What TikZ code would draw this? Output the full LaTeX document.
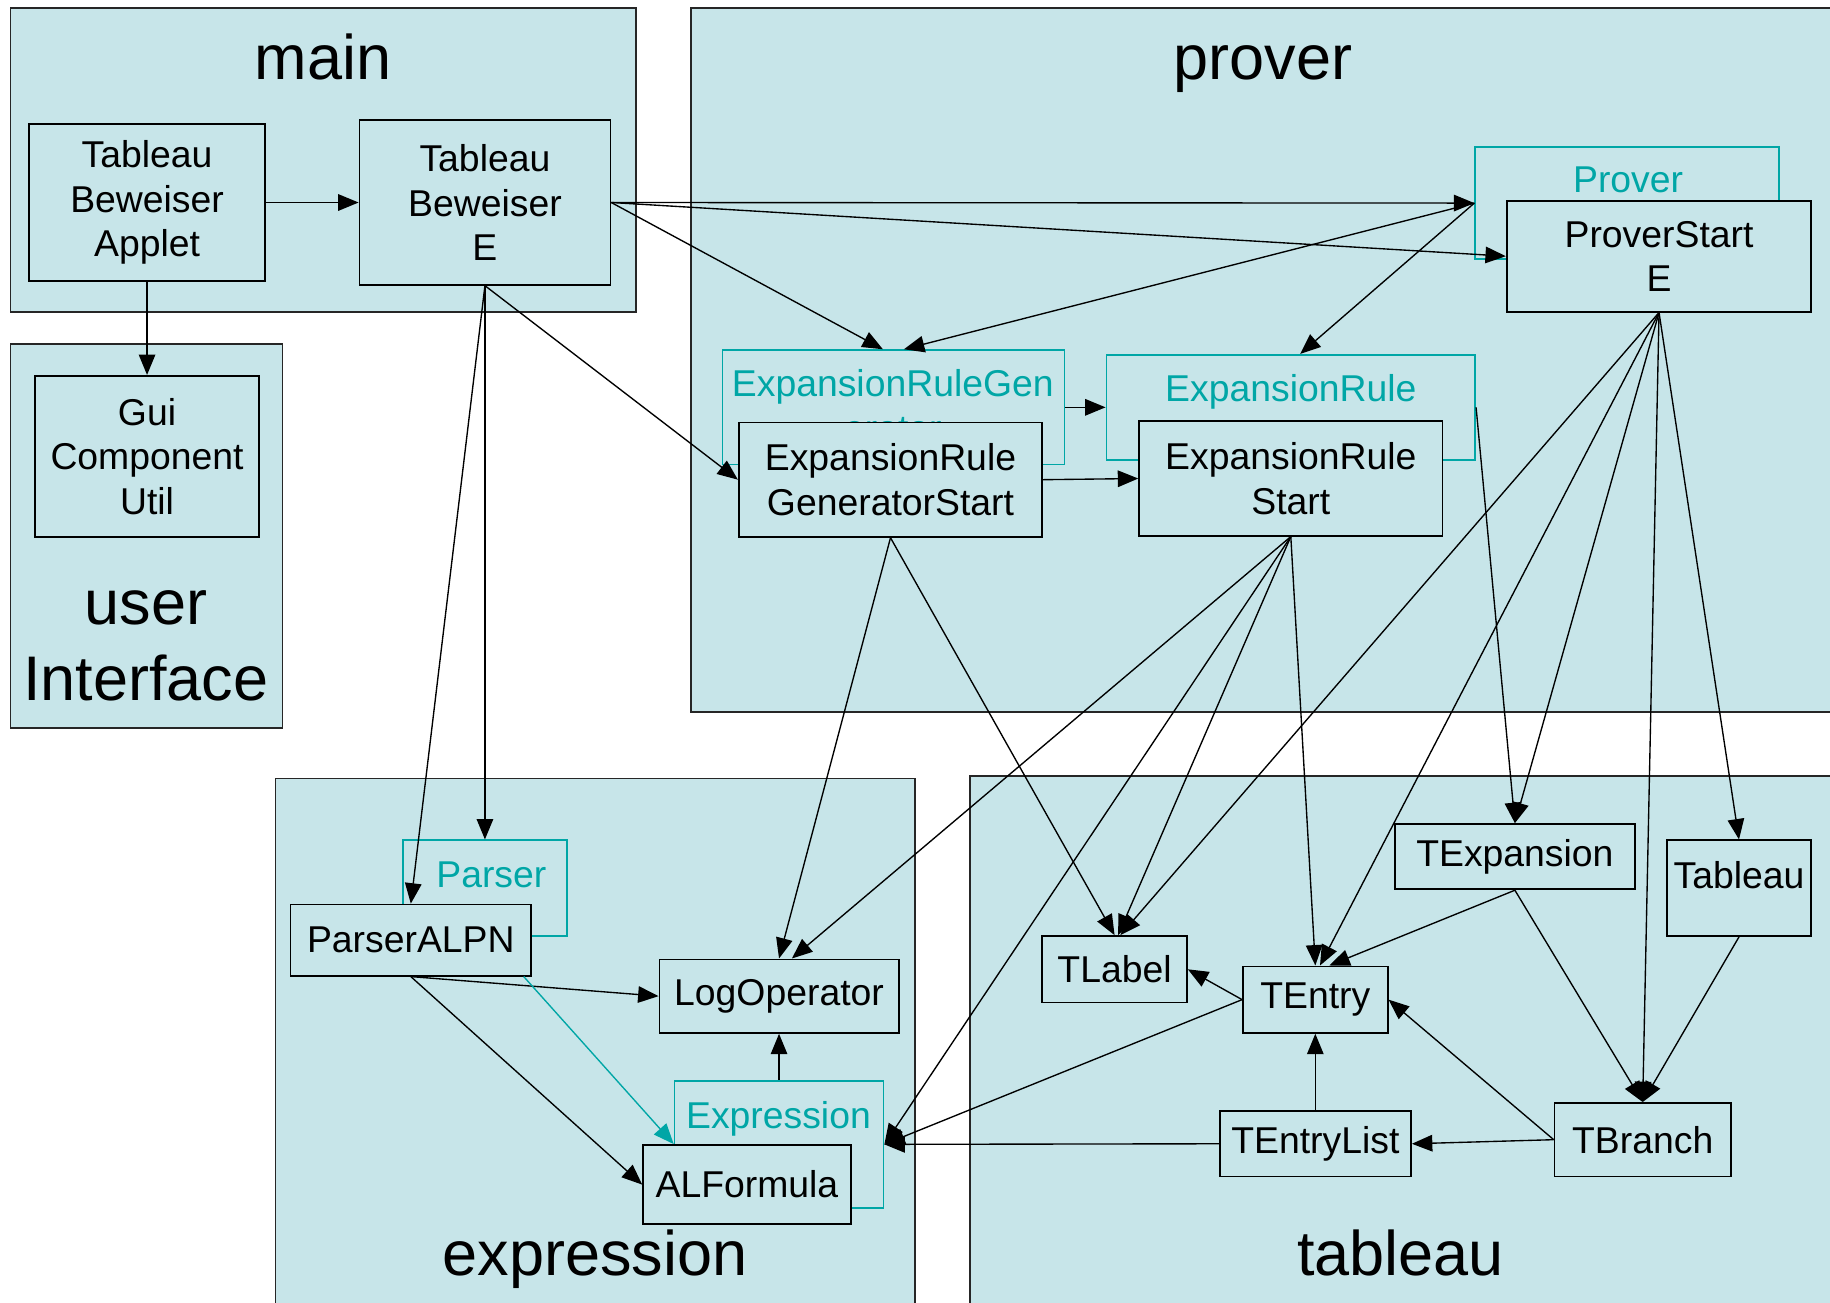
\documentclass[tikz,border=0pt]{standalone}
\usepackage{fontspec}
\setmainfont{Liberation Sans}
\usetikzlibrary{arrows.meta,fit,calc}
\definecolor{pkgfill}{RGB}{199,229,233}
\definecolor{tealc}{RGB}{0,166,166}
\newcommand\clsfont{\fontsize{19.2pt}{22.8pt}\selectfont}
\newcommand\ttlfont{\fontsize{32.4pt}{39pt}\selectfont}
\begin{document}
\begin{tikzpicture}[x=0.6pt,y=-0.6pt,
 pkg/.style={draw=black!85, fill=pkgfill, line width=0.9pt, inner sep=0pt},
 cls/.style={draw=black, fill=pkgfill, line width=0.9pt, inner sep=0pt, align=center, font=\clsfont},
 ifc/.style={draw=tealc, line width=0.9pt, inner sep=0pt},
 ifl/.style={text=tealc, font=\clsfont, anchor=base, inner sep=0pt, align=center},
 ttl/.style={font=\ttlfont, anchor=base, inner sep=0pt},
 arr/.style={-{Triangle[length=10.5pt,width=8.5pt]}, line width=0.7pt},
 tarr/.style={-{Triangle[length=10.5pt,width=8.5pt]}, line width=0.7pt, draw=tealc, fill=tealc}]
\useasboundingbox (0,0) rectangle (1568,1116);
\clip (0,0) rectangle (1568,1116);
% packages
\node[pkg, fit={(9,7)(545,267)}] (pmain) {};
\node[pkg, fit={(592,7)(1600,610)}] (pprover) {};
\node[pkg, fit={(9,295)(242,624)}] (pui) {};
\node[pkg, fit={(236,667)(784,1140)}] (pexpr) {};
\node[pkg, fit={(831,665)(1600,1140)}] (ptab) {};
\node[ttl] (tmain) at (277,68) {main};
\node[ttl] (tprover) at (1082,68) {prover};
\node[ttl] (tuser) at (125,535) {user};
\node[ttl] (tinterface) at (125,600) {Interface};
\node[ttl] (texpression) at (510,1093) {expression};
\node[ttl] (ttableau) at (1200,1093) {tableau};
% interfaces
\node[ifc, fit={(1264,126)(1524,222)}] (proverI) {};
\node[ifl] (proverL) at (1395,165) {Prover};
\node[ifc, fit={(619,300)(912,398)}] (ergI) {};
\node[ifl] (ergL) at (765,378) {ExpansionRuleGen\\erator};
\node[ifc, fit={(948,304)(1264,394)}] (erI) {};
\node[ifl] (erL) at (1106,344) {ExpansionRule};
\node[ifc, fit={(345,720)(486,802)}] (parserI) {};
\node[ifl] (parserL) at (421,760) {Parser};
\node[ifc, fit={(578,926)(757,1035)}] (exprI) {};
\node[ifl] (exprL) at (667,967) {Expression};
% classes
\node[cls, minimum width=121.2pt, minimum height=81pt] (applet) at (126,173.5) {Tableau\\Beweiser\\Applet};
\node[cls, minimum width=129pt, minimum height=84.6pt] (tbe) at (415.5,173.5) {Tableau\\Beweiser\\E};
\node[cls, minimum width=115.2pt, minimum height=82.8pt] (gui) at (126,391) {Gui\\Component\\Util};
\node[cls, minimum width=156.6pt, minimum height=57pt] (ps) at (1421.5,219.5) {ProverStart\\E};
\node[cls, minimum width=156pt, minimum height=58.8pt] (ergs) at (763,411) {ExpansionRule\\GeneratorStart};
\node[cls, minimum width=156pt, minimum height=58.8pt] (ers) at (1106,410) {ExpansionRule\\Start};
\node[cls, minimum width=123.6pt, minimum height=36.6pt] (parser) at (352,805.5) {ParserALPN};
\node[cls, minimum width=123pt, minimum height=37.8pt] (logop) at (667.5,853.5) {LogOperator};
\node[cls, minimum width=106.8pt, minimum height=40.8pt] (alf) at (640,1015) {ALFormula};
\node[cls, minimum width=74.4pt, minimum height=34.2pt] (tlabel) at (955,830.5) {TLabel};
\node[cls, minimum width=74.4pt, minimum height=34.2pt] (tentry) at (1127,856.5) {TEntry};
\node[cls, minimum width=123.6pt, minimum height=33.6pt] (texp) at (1298,734) {TExpansion};
\node[cls, minimum width=74.4pt, minimum height=49.2pt] (tableau) at (1490,761) {};
\node[font=\clsfont, anchor=base, inner sep=0pt] (tableauT) at (1490,761) {Tableau};
\node[cls, minimum width=98.4pt, minimum height=33.6pt] (tel) at (1127,980) {TEntryList};
\node[cls, minimum width=90.6pt, minimum height=37.8pt] (tbranch) at (1407.5,976.5) {TBranch};
% connectors
\draw[arr] (applet.east) -- (tbe.west);
\draw[arr] (applet.south) -- (gui.north);
\draw[arr] (tbe.east) -- (proverI.west);
\draw[arr] (tbe.east) -- (ps.west);
\draw[arr] (tbe.east) -- ($(ergI.north)+(-9,0)$);
\draw[arr] (tbe.south) -- (ergs.west);
\draw[arr] (tbe.south) -- (parserI.north);
\draw[arr] (tbe.south) -- (parser.north);
\draw[arr] (proverI.west) -- ($(ergI.north)+(9,0)$);
\draw[arr] (proverI.west) -- ($(erI.north)+(8,0)$);
\draw[arr] (ergI.east) -- (erI.west);
\draw[arr] (ergs.east) -- (ers.west);
\draw[arr] (ergs.south) -- (logop.north);
\draw[arr] (ergs.south) -- (tlabel.north);
\draw[arr] (ers.south) -- ($(logop.north)+(11,0)$);
\draw[arr] (ers.south) -- (exprI.east);
\draw[arr] (ers.south) -- ($(tlabel.north)+(3,0)$);
\draw[arr] (ers.south) -- (tentry.north);
\draw[arr] (ps.south) -- ($(tlabel.north)+(5,0)$);
\draw[arr] (ps.south) -- ($(tentry.north)+(4,0)$);
\draw[arr] (ps.south) -- (texp.north);
\draw[arr] (ps.south) -- (tbranch.north);
\draw[arr] (ps.south) -- (tableau.north);
\draw[arr] (erI.east) -- (texp.north);
\draw[arr] (texp.south) -- ($(tentry.north)+(12,0)$);
\draw[arr] (texp.south) -- (tbranch.north);
\draw[arr] (tableau.south) -- (tbranch.north);
\draw[arr] (tentry.west) -- (tlabel.east);
\draw[arr] (tentry.west) -- (exprI.east);
\draw[arr] (tel.north) -- (tentry.south);
\draw[arr] (tel.west) -- (exprI.east);
\draw[arr] (tbranch.west) -- (tel.east);
\draw[arr] (tbranch.west) -- (tentry.east);
\draw[arr] (parser.south) -- (logop.west);
\draw[arr] (parser.south) -- (alf.west);
\draw[tarr] ($(parser.south east)+(-7,0)$) -- (exprI.west |- alf.north);
\draw[arr] (exprI.north) -- (logop.south);
\end{tikzpicture}
\end{document}
